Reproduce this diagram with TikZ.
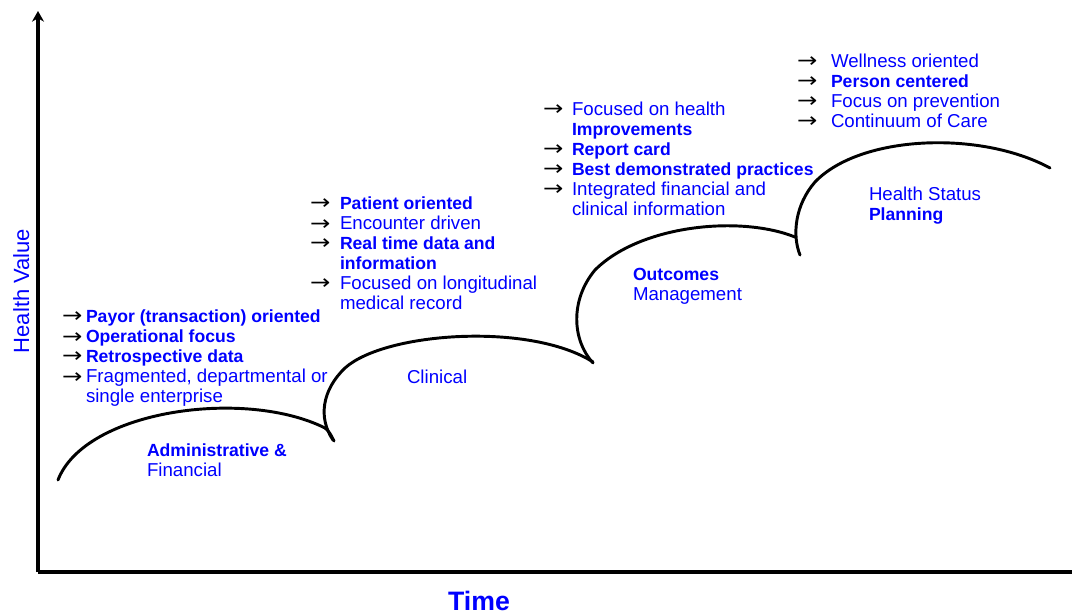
\documentclass[tikz,border=0pt]{standalone}
\usepackage{fontspec}
\setmainfont{Liberation Sans}
\newfontfamily\symfont{DejaVu Sans}
\usetikzlibrary{arrows.meta}

\definecolor{txtblue}{RGB}{0,0,255}

% text styles for the stage lists
\newcommand{\stgreg}{\fontsize{14}{15}\selectfont\mdseries}
\newcommand{\stgbold}{\fontsize{13.2}{15}\selectfont\bfseries}
\newcommand{\stgarrow}{\leavevmode{\color{black}\symfont\fontsize{14}{15}\selectfont\scalebox{1.3}[1.1]{→}}}

\tikzset{
  stagelist/.style={inner sep=0pt, outer sep=0pt, text=txtblue, anchor=base west,
                    font=\fontsize{14}{15}\selectfont},
  stagename/.style={stagelist},
  axisline/.style={line width=2.5pt},
  stagecurve/.style={line width=2.2pt, line cap=round, line join=round},
  axislabel/.style={text=txtblue, inner sep=0pt, anchor=base}
}

\begin{document}
\begin{tikzpicture}[x=0.75pt, y=-0.75pt]
  \useasboundingbox (0,0) rectangle (1072,613);

  % axes
  \coordinate (origin) at (38,572);
  \coordinate (ytop) at (38,11);
  \coordinate (xend) at (1072,572);
  \draw[axisline, -{Stealth[length=8pt,width=9pt]}] (origin) -- (ytop);
  \draw[axisline] (origin) -- (xend);

  \node[axislabel, font=\fontsize{20}{24}\selectfont\bfseries] (tlabel) at (479,610) {Time};
  \node[axislabel, rotate=90, font=\fontsize{16.5}{20}\selectfont] (vlabel) at (29,291) {Health Value};

  % the four stage curves
  \draw[stagecurve] (58,480) .. controls (85,410) and (245,388) .. (325,428)
                    .. controls (329,431) and (331,435) .. (334,441);
  \draw[stagecurve] (333,440) .. controls (318,418) and (322,390) .. (345,368)
                    .. controls (385,332) and (530,322) .. (593,362);
  \draw[stagecurve] (593,363) .. controls (572,340) and (570,300) .. (595,270)
                    .. controls (640,225) and (740,215) .. (795,237);
  \draw[stagecurve] (800,255) .. controls (792,235) and (795,205) .. (815,182)
                    .. controls (860,135) and (980,130) .. (1050,168);

  % stage names
  \node[stagename] (admin) at (147,456) {\begin{tabular}[t]{@{}l@{}}
      \stgbold Administrative \&\\ \stgreg Financial\end{tabular}};
  \node[stagename] (clin) at (407,383) {\begin{tabular}[t]{@{}l@{}}
      \stgreg Clinical\end{tabular}};
  \node[stagename] (outc) at (633,281) {\begin{tabular}[t]{@{}l@{}}
      \stgbold Outcomes\\ \stgreg Management\end{tabular}};
  \node[stagename] (hsp) at (869,201) {\begin{tabular}[t]{@{}l@{}}
      \stgreg Health Status\\ \stgbold Planning\end{tabular}};

  % characteristics of each stage
  \node[stagelist] (list1) at (62,323) {\begin{tabular}[t]{@{}p{18pt}@{}l@{}}
      \stgarrow & \stgbold Payor (transaction) oriented\\
      \stgarrow & \stgbold Operational focus\\
      \stgarrow & \stgbold Retrospective data\\
      \stgarrow & \stgreg Fragmented, departmental or\\
                & \stgreg single enterprise
    \end{tabular}};

  \node[stagelist] (list2) at (310,210) {\begin{tabular}[t]{@{}p{22.5pt}@{}l@{}}
      \stgarrow & \stgbold Patient oriented\\
      \stgarrow & \stgreg Encounter driven\\
      \stgarrow & \stgbold Real time data and\\
                & \stgbold information\\
      \stgarrow & \stgreg Focused on longitudinal\\
                & \stgreg medical record
    \end{tabular}};

  \node[stagelist] (list3) at (543,116) {\begin{tabular}[t]{@{}p{21.75pt}@{}l@{}}
      \stgarrow & \stgreg Focused on health\\
                & \stgbold Improvements\\
      \stgarrow & \stgbold Report card\\
      \stgarrow & \stgbold Best demonstrated practices\\
      \stgarrow & \stgreg Integrated financial and\\
                & \stgreg clinical information
    \end{tabular}};

  \node[stagelist] (list4) at (797,68) {\begin{tabular}[t]{@{}p{25.5pt}@{}l@{}}
      \stgarrow & \stgreg Wellness oriented\\
      \stgarrow & \stgbold Person centered\\
      \stgarrow & \stgreg Focus on prevention\\
      \stgarrow & \stgreg Continuum of Care
    \end{tabular}};
\end{tikzpicture}
\end{document}
